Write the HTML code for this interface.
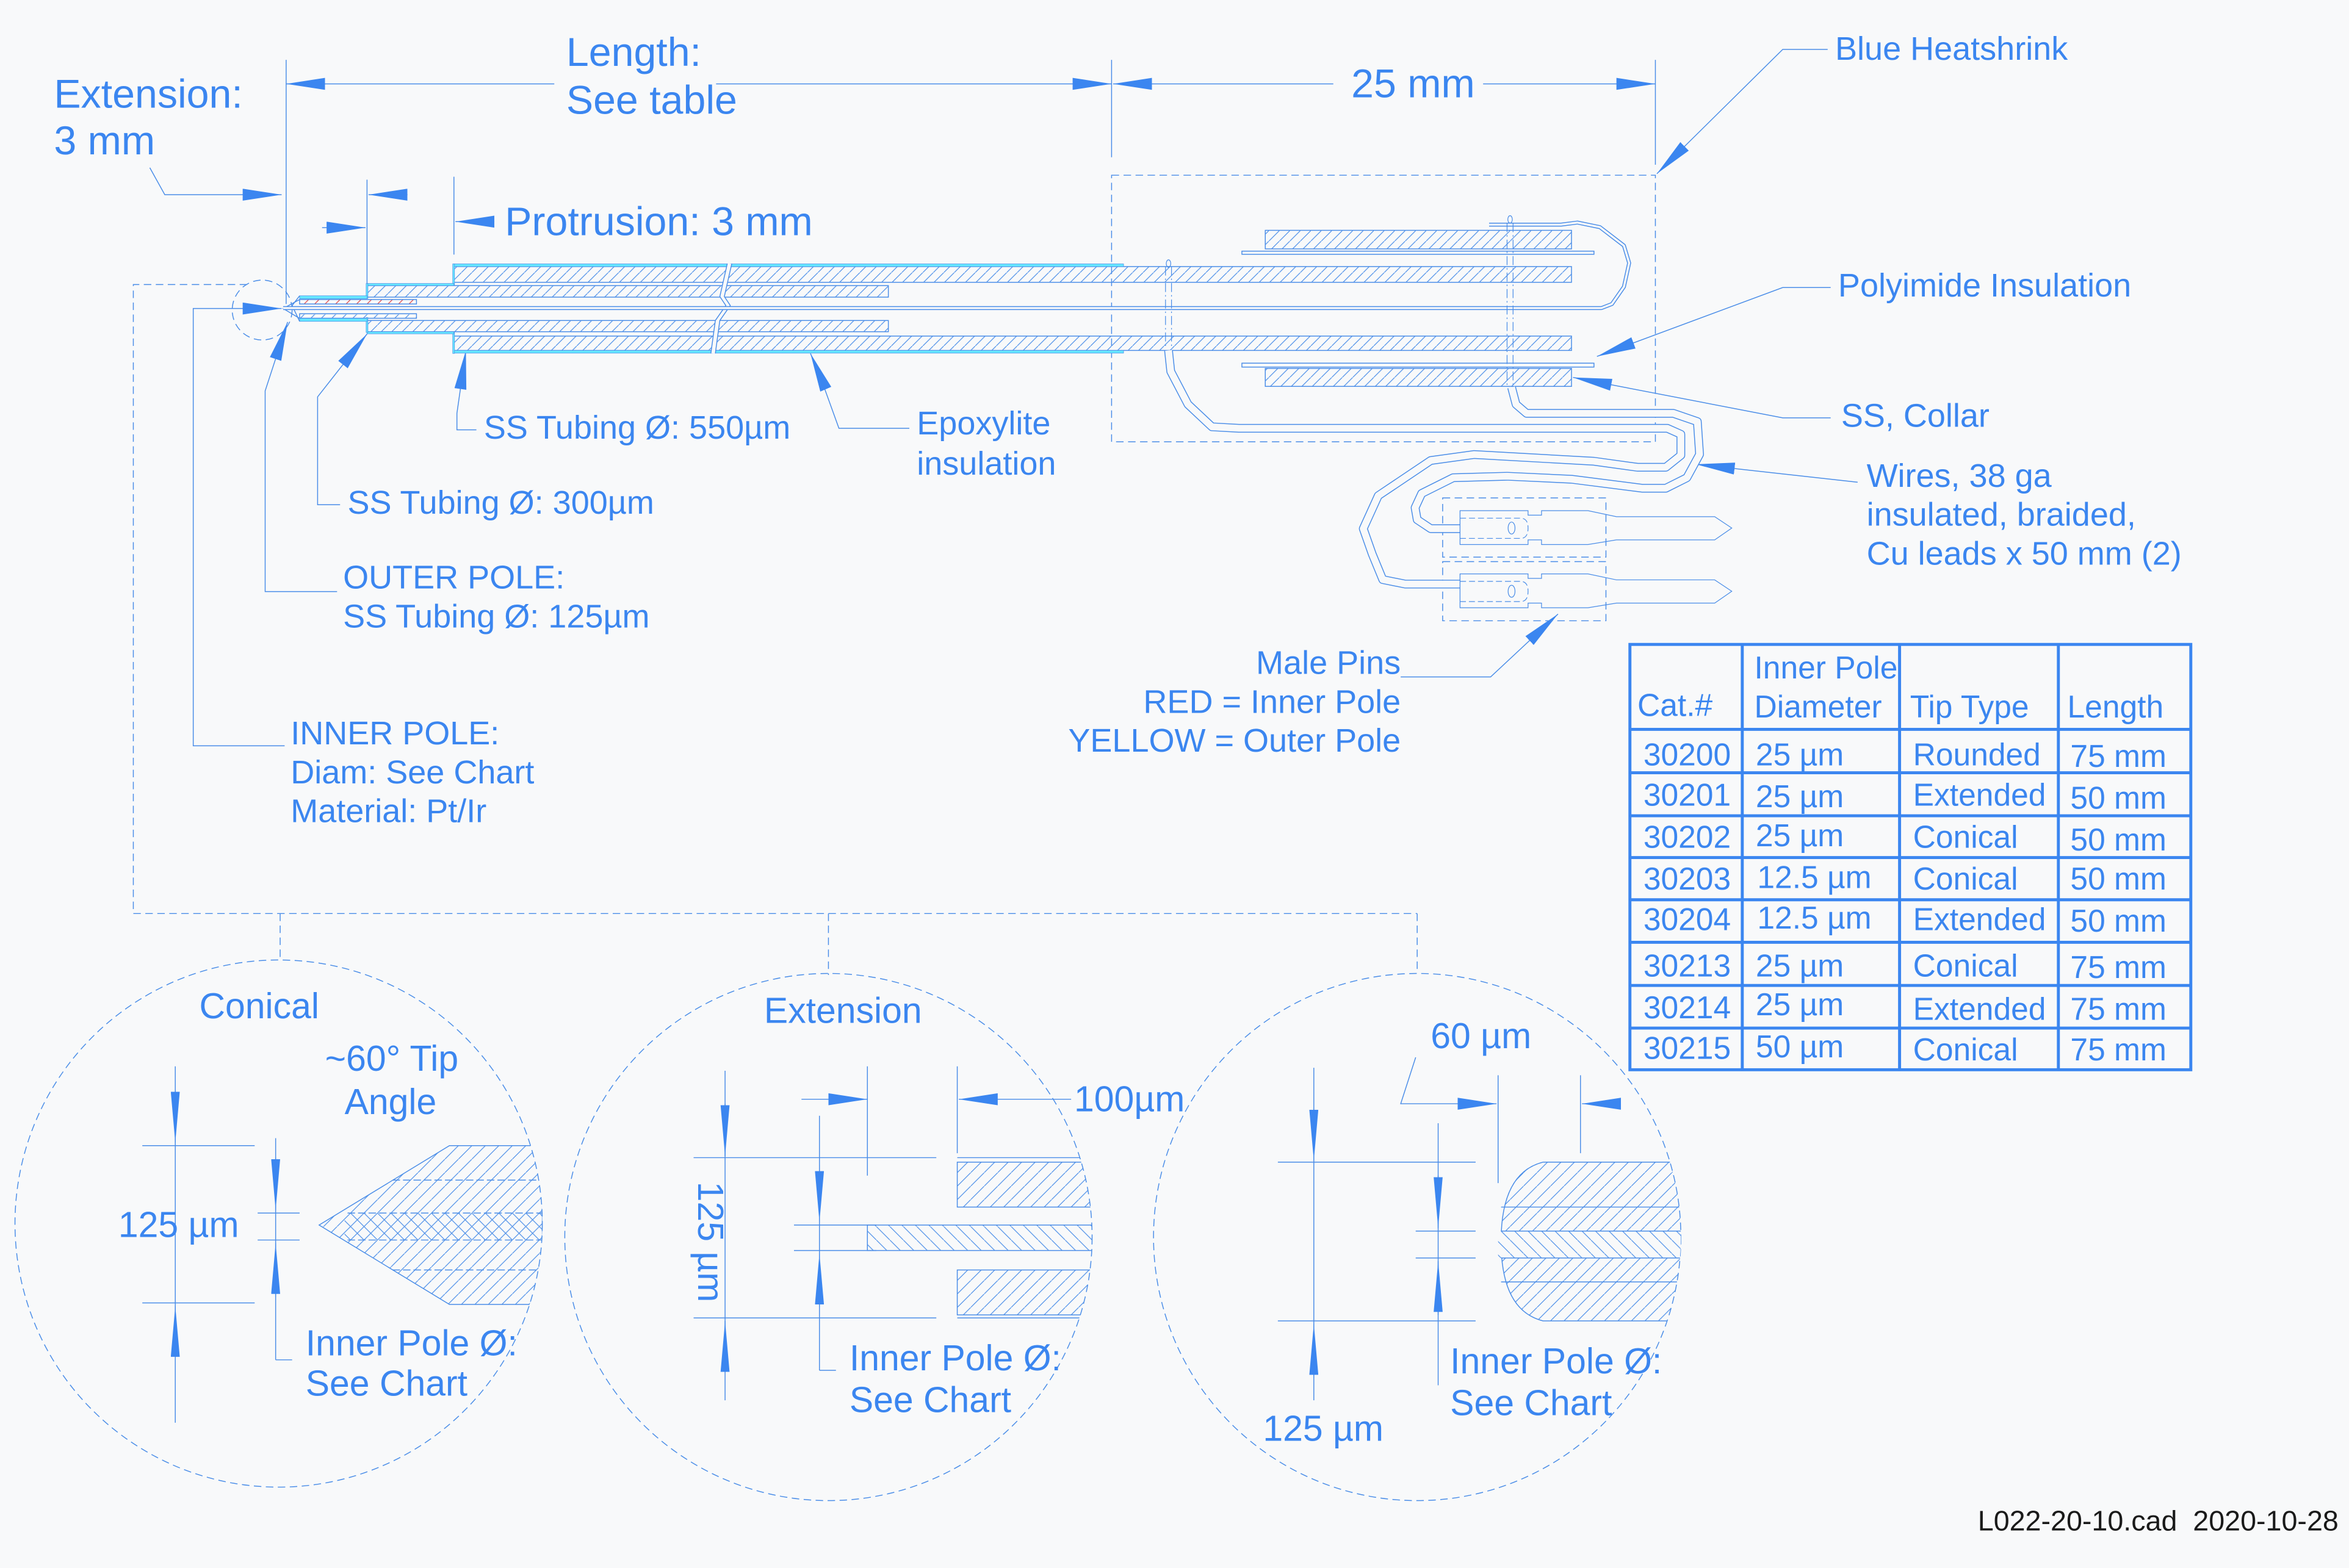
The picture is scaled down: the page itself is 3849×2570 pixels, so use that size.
<!DOCTYPE html>
<html><head><meta charset="utf-8"><style>
html,body{margin:0;padding:0;background:#f8f9fa;}
svg{display:block;}
text{font-family:"Liberation Sans",Arial,sans-serif;fill:#3b86f0;}
</style></head><body>
<svg width="3849" height="2570" viewBox="0 0 1568 1047" preserveAspectRatio="none" xmlns="http://www.w3.org/2000/svg">
<defs>
<marker id="a" markerUnits="userSpaceOnUse" markerWidth="28" markerHeight="8" refX="26" refY="4" orient="auto"><path d="M0,0 L26,4 L0,8z" fill="#3b86f0"/></marker>
<marker id="b" markerUnits="userSpaceOnUse" markerWidth="36" markerHeight="6" refX="34" refY="3" orient="auto"><path d="M0,0 L34,3 L0,6z" fill="#3b86f0"/></marker>
<pattern id="h" patternUnits="userSpaceOnUse" width="7" height="7"><path d="M-1,8 L8,-1" stroke="#4a8de8" stroke-width="0.5"/></pattern>
<pattern id="h2" patternUnits="userSpaceOnUse" width="9" height="9"><path d="M-1,10 L10,-1" stroke="#4a8de8" stroke-width="0.5"/></pattern>
<pattern id="h3" patternUnits="userSpaceOnUse" width="9" height="9"><path d="M-1,-1 L10,10" stroke="#4a8de8" stroke-width="0.5"/></pattern>
<pattern id="hr" patternUnits="userSpaceOnUse" width="7" height="7"><path d="M-1,8 L8,-1" stroke="#e04040" stroke-width="0.5"/></pattern>
<clipPath id="c1"><circle cx="186" cy="817" r="176"/></clipPath>
<clipPath id="c2"><circle cx="553" cy="826" r="176"/></clipPath>
<clipPath id="c3"><circle cx="946" cy="826" r="176"/></clipPath>
</defs>
<rect width="1568" height="1047" fill="#f8f9fa"/>

<g stroke="#4a8de8" stroke-width="0.6" fill="none">
<line x1="191" y1="40" x2="191" y2="203"/>
<line x1="742" y1="40" x2="742" y2="105"/>
<line x1="1105" y1="40" x2="1105" y2="110"/>
<line x1="245" y1="120" x2="245" y2="190"/>
<line x1="303" y1="118" x2="303" y2="170"/>
<g marker-end="url(#a)">
<line x1="370" y1="56" x2="191" y2="56"/>
<line x1="478" y1="56" x2="742" y2="56"/>
<line x1="890" y1="56" x2="743" y2="56"/>
<line x1="990" y1="56" x2="1105" y2="56"/>
<polyline points="100,112 110,130 188,130"/>
<line x1="272" y1="130" x2="246" y2="130"/>
<line x1="215" y1="152" x2="244" y2="152"/>
<line x1="330" y1="148" x2="304" y2="148"/>
<polyline points="1220,33 1190,33 1106,116"/>
<polyline points="1222,192 1190,192 1066,238"/>
<polyline points="1222,279 1190,279 1050,252"/>
<polyline points="1240,322 1132,310"/>
<polyline points="935,452 995,452 1040,410"/>
<polyline points="318,287 305,287 305,276 311,234"/>
<polyline points="607,286 560,286 547,250 541,236"/>
<polyline points="227,337 212,337 212,265 245,223"/>
<polyline points="225,395 177,395 177,261 192,215"/>
<polyline points="190,498 129,498 129,206 188,206"/>
</g>
<g stroke-dasharray="5 3">
<rect x="742" y="117" width="363" height="178"/>
<ellipse cx="175" cy="207" rx="20" ry="20"/>
<polyline points="165,190 89,190 89,610 946,610"/>
<line x1="187" y1="610" x2="187" y2="641"/>
<line x1="553" y1="610" x2="553" y2="651"/>
<line x1="946" y1="610" x2="946" y2="650"/>
<circle cx="186" cy="817" r="176"/>
<circle cx="553" cy="826" r="176"/>
<circle cx="946" cy="826" r="176"/>
<rect x="963" y="332.5" width="109" height="39.5"/>
<rect x="963" y="375" width="109" height="39.5"/>
</g>
</g>

<g stroke="#4a8de8" stroke-width="0.6">
<rect x="303" y="178" width="746" height="10.5" fill="url(#h)"/>
<rect x="303" y="224.4" width="746" height="9.6" fill="url(#h)"/>
<rect x="245" y="190.7" width="348" height="7.7" fill="url(#h)"/>
<rect x="245" y="214" width="348" height="7.5" fill="url(#h)"/>
<rect x="200" y="200" width="78" height="3" fill="url(#hr)"/>
<rect x="200" y="209.5" width="78" height="3" fill="url(#h)"/>
<rect x="844.6" y="153.8" width="204.4" height="12.4" fill="url(#h)"/>
<rect x="844.6" y="246" width="204.4" height="12" fill="url(#h)"/>
<rect x="829" y="167.7" width="235" height="2.1" fill="none"/>
<rect x="829" y="242.5" width="235" height="2.6" fill="none"/>
</g>
<g fill="#66e8ff" stroke="#4a8de8" stroke-width="0.3">
<rect x="303" y="176.2" width="447" height="1.8"/>
<rect x="303" y="234" width="447" height="1.8"/>
<rect x="302.2" y="176.2" width="1.2" height="14"/>
<rect x="302.2" y="222" width="1.2" height="14"/>
<rect x="245" y="189.3" width="58" height="1.4"/>
<rect x="245" y="221.5" width="58" height="1.4"/>
<rect x="244.4" y="189.3" width="1.2" height="10"/>
<rect x="244.4" y="212" width="1.2" height="10"/>
<rect x="200" y="197.5" width="45" height="2"/>
<rect x="200" y="212.6" width="45" height="2"/>
</g>
<g stroke="#4a8de8" stroke-width="0.6" fill="none">
<polyline points="200,197.5 195,204 200,214.6"/>
<polyline points="200,200 189,206 200,212.6"/>
<polyline points="487,176 482,198 486,204 479,214 476,236" stroke="#f8f9fa" stroke-width="3"/>
<polyline points="485.5,176 480.5,198 484.5,204 477.5,214 474.5,236"/>
<polyline points="488.5,176 483.5,198 487.5,204 480.5,214 477.5,236"/>
</g>
<g fill="none" stroke-linejoin="round">
<path d="M189,205.7 L1069,205.7 L1076,203 L1084,191.5 L1087.5,175.6 L1084,164 L1068,151.7 L1053,148.6 L1042,150 L994,150" stroke="#4a8de8" stroke-width="2.6"/>
<path d="M189,205.7 L1069,205.7 L1076,203 L1084,191.5 L1087.5,175.6 L1084,164 L1068,151.7 L1053,148.6 L1042,150 L994,150" stroke="#f8f9fa" stroke-width="1.4"/>
<path d="M780,234 L781.5,248 L793,270 L809,285 L827,286 L1113,286 L1122,290 L1122,304 L1112,312 L1093,312 L1064,308 L984,303.5 L955,307.5 L920,331 L910,353 L916,370 L923,387 L938,390 L974.6,390" stroke="#4a8de8" stroke-width="5.8"/>
<path d="M780,234 L781.5,248 L793,270 L809,285 L827,286 L1113,286 L1122,290 L1122,304 L1112,312 L1093,312 L1064,308 L984,303.5 L955,307.5 L920,331 L910,353 L916,370 L923,387 L938,390 L974.6,390" stroke="#f8f9fa" stroke-width="4.6"/>
<path d="M1009,258.6 L1012,270 L1019,276 L1117,276 L1133,281.5 L1134.5,303.4 L1126,319 L1112,326 L1096,326 L1049,320 L1006,318 L970,319 L949,329.5 L944.6,339 L946,347 L955,353 L974.6,353" stroke="#4a8de8" stroke-width="5.8"/>
<path d="M1009,258.6 L1012,270 L1019,276 L1117,276 L1133,281.5 L1134.5,303.4 L1126,319 L1112,326 L1096,326 L1049,320 L1006,318 L970,319 L949,329.5 L944.6,339 L946,347 L955,353 L974.6,353" stroke="#f8f9fa" stroke-width="4.6"/>
</g>
<g stroke="#4a8de8" stroke-width="0.5" fill="none">
<ellipse cx="780" cy="176" rx="1.5" ry="2.5"/>
<ellipse cx="1008" cy="146.5" rx="1.5" ry="2.5"/>
<g stroke-dasharray="6 2 1 2">
<line x1="778" y1="178" x2="778" y2="232"/><line x1="782" y1="178" x2="782" y2="232"/>
<line x1="1006" y1="149" x2="1006" y2="258"/><line x1="1010" y1="149" x2="1010" y2="258"/>
</g>
<g>
<path d="M974.6,341 L1020,341 L1020,344 L1029,344 L1029,341 L1060,341 L1079,345 L1144.6,345 L1156,352.6 L1144.6,360.5 L1079,360.5 L1060,363.6 L1029,363.6 L1029,360.5 L1020,360.5 L1020,363.6 L974.6,363.6 Z"/>
<path d="M974.6,346 L1015,346 Q1020,346 1020,352.6 Q1020,359.5 1015,359.5 L974.6,359.5" stroke-dasharray="4 2"/>
<ellipse cx="1009" cy="352.6" rx="2.3" ry="4"/>
</g>
<g transform="translate(0,42.2)">
<path d="M974.6,341 L1020,341 L1020,344 L1029,344 L1029,341 L1060,341 L1079,345 L1144.6,345 L1156,352.6 L1144.6,360.5 L1079,360.5 L1060,363.6 L1029,363.6 L1029,360.5 L1020,360.5 L1020,363.6 L974.6,363.6 Z"/>
<path d="M974.6,346 L1015,346 Q1020,346 1020,352.6 Q1020,359.5 1015,359.5 L974.6,359.5" stroke-dasharray="4 2"/>
<ellipse cx="1009" cy="352.6" rx="2.3" ry="4"/>
</g>
</g>

<g stroke="#4a8de8" stroke-width="0.6" fill="none">
<g clip-path="url(#c1)">
<path d="M213,818 L300,765 L362,765 L362,871 L300,871 Z" fill="url(#h2)"/>
<rect x="230" y="810" width="140" height="18" fill="url(#h3)" stroke="none"/>
<g stroke-dasharray="5 2">
<line x1="262" y1="788" x2="362" y2="788"/><line x1="232" y1="810" x2="362" y2="810"/>
<line x1="232" y1="828" x2="362" y2="828"/><line x1="262" y1="848" x2="362" y2="848"/>
</g>
</g>
<line x1="117" y1="712" x2="117" y2="950"/>
<line x1="95" y1="765" x2="170" y2="765"/><line x1="95" y1="870" x2="170" y2="870"/>
<line x1="184" y1="760" x2="184" y2="908"/><line x1="184" y1="908" x2="195" y2="908"/>
<line x1="172" y1="810" x2="200" y2="810"/><line x1="172" y1="828" x2="200" y2="828"/>
<g marker-end="url(#b)">
<line x1="117" y1="728" x2="117" y2="763"/>
<line x1="117" y1="906" x2="117" y2="872"/>
<line x1="184" y1="773" x2="184" y2="808"/>
<line x1="184" y1="866" x2="184" y2="830"/>
</g>

<g clip-path="url(#c2)">
<rect x="639" y="776" width="100" height="30" fill="url(#h2)"/>
<rect x="639" y="848" width="100" height="30" fill="url(#h2)"/>
<rect x="579" y="818" width="160" height="17" fill="url(#h3)"/>
<line x1="639" y1="773" x2="740" y2="773"/><line x1="639" y1="880" x2="740" y2="880"/>
</g>
<line x1="484" y1="715" x2="484" y2="935"/>
<line x1="463" y1="773" x2="625" y2="773"/><line x1="463" y1="880" x2="625" y2="880"/>
<line x1="547" y1="745" x2="547" y2="915"/><line x1="547" y1="915" x2="558" y2="915"/>
<line x1="530" y1="818" x2="585" y2="818"/><line x1="530" y1="835" x2="585" y2="835"/>
<line x1="579" y1="712" x2="579" y2="785"/><line x1="639" y1="712" x2="639" y2="770"/>
<g marker-end="url(#b)">
<line x1="484" y1="737" x2="484" y2="772"/>
<line x1="484" y1="916" x2="484" y2="882"/>
<line x1="547" y1="778" x2="547" y2="816"/>
<line x1="547" y1="873" x2="547" y2="837"/>
</g>
<g marker-end="url(#a)">
<line x1="535" y1="734" x2="579" y2="734"/>
<line x1="715" y1="734" x2="640" y2="734"/>
</g>

<g clip-path="url(#c3)">
<path d="M1030,776 L1130,776 L1130,882 L1030,882 Q1002,875 1002,829 Q1002,783 1030,776 Z" fill="url(#h2)"/>
<rect x="1000" y="822" width="130" height="18" fill="#f8f9fa" stroke="none"/>
<rect x="1000" y="822" width="130" height="18" fill="url(#h3)" stroke="none"/>
<line x1="1002" y1="822" x2="1130" y2="822"/><line x1="1002" y1="840" x2="1130" y2="840"/>
<line x1="1002" y1="806" x2="1130" y2="806"/><line x1="1002" y1="856" x2="1130" y2="856"/>
</g>
<line x1="877" y1="713" x2="877" y2="935"/>
<line x1="853" y1="776" x2="985" y2="776"/><line x1="853" y1="882" x2="985" y2="882"/>
<line x1="960" y1="750" x2="960" y2="925"/>
<line x1="945" y1="822" x2="985" y2="822"/><line x1="945" y1="840" x2="985" y2="840"/>
<line x1="1000" y1="718" x2="1000" y2="790"/><line x1="1055" y1="718" x2="1055" y2="770"/>
<g marker-end="url(#b)">
<line x1="877" y1="740" x2="877" y2="775"/>
<line x1="877" y1="920" x2="877" y2="884"/>
<line x1="960" y1="785" x2="960" y2="820"/>
<line x1="960" y1="878" x2="960" y2="842"/>
</g>
<g marker-end="url(#a)">
<polyline points="945,706 935,737 999,737"/>
<line x1="1082" y1="737" x2="1056" y2="737"/>
</g>
</g>

<g font-size="27">
<text x="36" y="72">Extension:</text>
<text x="36" y="103">3 mm</text>
<text x="378" y="44">Length:</text>
<text x="378" y="76">See table</text>
<text x="902" y="65">25 mm</text>
<text x="337" y="157">Protrusion: 3 mm</text>
</g>
<g font-size="22">
<text x="1225" y="40">Blue Heatshrink</text>
<text x="1227" y="198">Polyimide Insulation</text>
<text x="1229" y="285">SS, Collar</text>
<text x="1246" y="325">Wires, 38 ga</text>
<text x="1246" y="351">insulated, braided,</text>
<text x="1246" y="377">Cu leads x 50 mm (2)</text>
<text x="935" y="450" text-anchor="end">Male Pins</text>
<text x="935" y="476" text-anchor="end">RED = Inner Pole</text>
<text x="935" y="502" text-anchor="end">YELLOW = Outer Pole</text>
<text x="323" y="293">SS Tubing Ø: 550µm</text>
<text x="612" y="290">Epoxylite</text>
<text x="612" y="317">insulation</text>
<text x="232" y="343">SS Tubing Ø: 300µm</text>
<text x="229" y="393">OUTER POLE:</text>
<text x="229" y="419">SS Tubing Ø: 125µm</text>
<text x="194" y="497">INNER POLE:</text>
<text x="194" y="523">Diam: See Chart</text>
<text x="194" y="549">Material: Pt/Ir</text>
</g>
<g font-size="24">
<text x="133" y="680">Conical</text>
<text x="217" y="715">~60° Tip</text>
<text x="230" y="744">Angle</text>
<text x="79" y="826">125 µm</text>
<text x="204" y="905">Inner Pole Ø:</text>
<text x="204" y="932">See Chart</text>
<text x="510" y="683">Extension</text>
<text x="717" y="742">100µm</text>
<text transform="translate(466,789) rotate(90)">125 µm</text>
<text x="567" y="915">Inner Pole Ø:</text>
<text x="567" y="943">See Chart</text>
<text x="955" y="700">60 µm</text>
<text x="843" y="962">125 µm</text>
<text x="968" y="917">Inner Pole Ø:</text>
<text x="968" y="945">See Chart</text>
</g>

<g stroke="#3b86f0" stroke-width="2" fill="none">
<rect x="1088" y="430.3" width="374.4" height="284"/>
<line x1="1163" y1="430" x2="1163" y2="714"/>
<line x1="1268" y1="430" x2="1268" y2="714"/>
<line x1="1374" y1="430" x2="1374" y2="714"/>
<line x1="1088" y1="487" x2="1462" y2="487"/>
<line x1="1088" y1="516" x2="1462" y2="516"/>
<line x1="1088" y1="544.7" x2="1462" y2="544.7"/>
<line x1="1088" y1="572.6" x2="1462" y2="572.6"/>
<line x1="1088" y1="600.8" x2="1462" y2="600.8"/>
<line x1="1088" y1="629.2" x2="1462" y2="629.2"/>
<line x1="1088" y1="658" x2="1462" y2="658"/>
<line x1="1088" y1="686.5" x2="1462" y2="686.5"/>
</g>
<g font-size="21">
<text x="1093" y="478">Cat.#</text>
<text x="1171" y="453">Inner Pole</text>
<text x="1171" y="479">Diameter</text>
<text x="1275" y="479">Tip Type</text>
<text x="1380" y="479">Length</text>
<text x="1097" y="511">30200</text><text x="1172" y="511">25 µm</text><text x="1277" y="511">Rounded</text><text x="1382" y="512">75 mm</text>
<text x="1097" y="538">30201</text><text x="1172" y="539">25 µm</text><text x="1277" y="538">Extended</text><text x="1382" y="540">50 mm</text>
<text x="1097" y="566">30202</text><text x="1172" y="565">25 µm</text><text x="1277" y="566">Conical</text><text x="1382" y="568">50 mm</text>
<text x="1097" y="594">30203</text><text x="1173" y="593">12.5 µm</text><text x="1277" y="594">Conical</text><text x="1382" y="594">50 mm</text>
<text x="1097" y="621">30204</text><text x="1173" y="620">12.5 µm</text><text x="1277" y="621">Extended</text><text x="1382" y="622">50 mm</text>
<text x="1097" y="652">30213</text><text x="1172" y="652">25 µm</text><text x="1277" y="652">Conical</text><text x="1382" y="653">75 mm</text>
<text x="1097" y="680">30214</text><text x="1172" y="678">25 µm</text><text x="1277" y="681">Extended</text><text x="1382" y="681">75 mm</text>
<text x="1097" y="707">30215</text><text x="1172" y="706">50 µm</text><text x="1277" y="708">Conical</text><text x="1382" y="708">75 mm</text>
</g>
<text x="1561" y="1022" font-size="19" text-anchor="end" style="fill:#1a1a1a">L022-20-10.cad&#160; 2020-10-28</text>
</svg>
</body></html>
